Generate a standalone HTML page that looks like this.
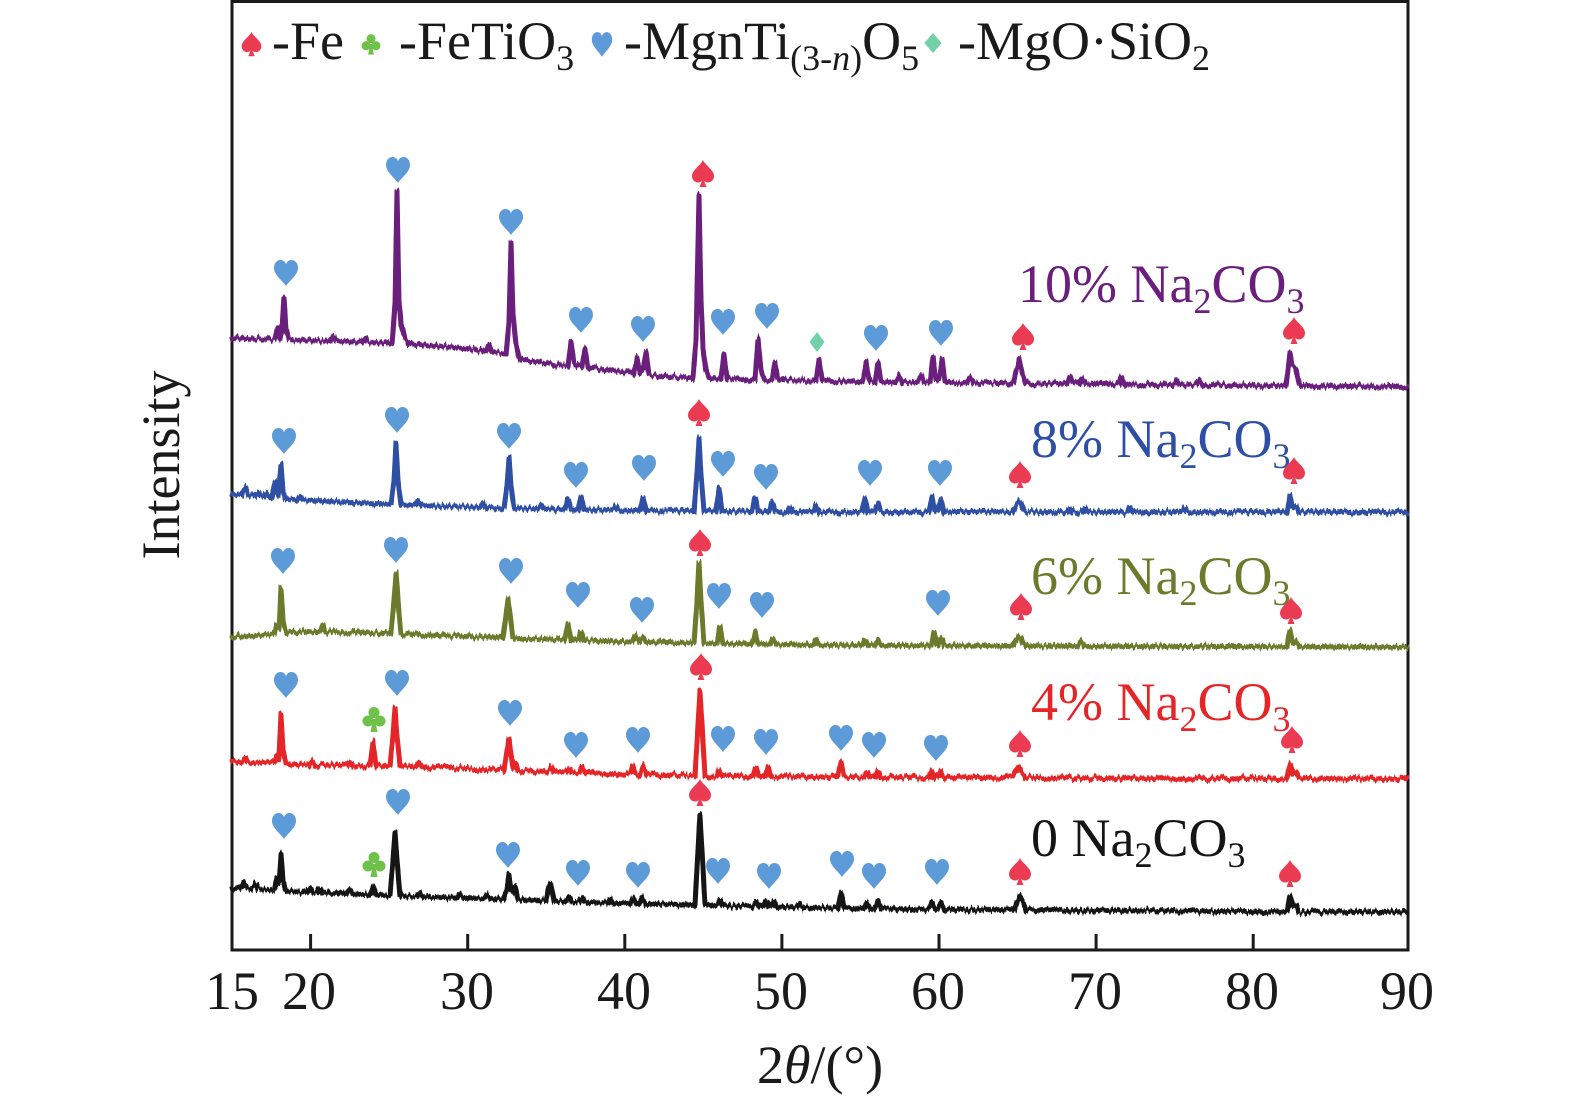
<!DOCTYPE html>
<html>
<head>
<meta charset="utf-8">
<style>
html,body{margin:0;padding:0;background:#fff;}
svg{display:block;}
text{font-family:"Liberation Serif","Times New Roman",serif;}
</style>
</head>
<body>
<svg xmlns="http://www.w3.org/2000/svg" width="1575" height="1102" viewBox="0 0 1575 1102">
<defs>
<path id="hrt" d="M0,13 C-3,8 -12,2 -12,-5 C-12,-10 -9,-13 -5.5,-13 C-2.5,-13 -0.5,-11 0,-8.5 C0.5,-11 2.5,-13 5.5,-13 C9,-13 12,-10 12,-5 C12,2 3,8 0,13Z"/>
<path id="spd" d="M0,-14 C-2,-9 -11,-4 -11,2 C-11,6 -8,8.5 -5,8.5 C-3,8.5 -1.5,7.5 -1,6.5 L-3.5,13 L3.5,13 L1,6.5 C1.5,7.5 3,8.5 5,8.5 C8,8.5 11,6 11,2 C11,-4 2,-9 0,-14Z"/>
<g id="clb"><circle cx="0" cy="-6.5" r="5.5"/><circle cx="-6" cy="2" r="5.5"/><circle cx="6" cy="2" r="5.5"/><path d="M-1,0 L1,0 L3.5,13 L-3.5,13Z"/></g>
<path id="dmd" d="M0,-10 L7.5,0 L0,10 L-7.5,0Z"/>
<filter id="nz" x="-2%" y="-30%" width="104%" height="160%" color-interpolation-filters="sRGB">
<feTurbulence type="fractalNoise" baseFrequency="0.45 0.02" numOctaves="2" seed="5" result="t"/>
<feColorMatrix in="t" type="matrix" values="0 0 0 0 0.5  0 1 0 0 0  0 0 0 0 0  0 0 0 0 1" result="m"/>
<feDisplacementMap in="SourceGraphic" in2="m" scale="9" xChannelSelector="R" yChannelSelector="G"/>
</filter>
</defs>

<rect x="232" y="1.5" width="1176" height="948.5" fill="none" stroke="#1a1a1a" stroke-width="3"/>
<path stroke="#1a1a1a" stroke-width="3" d="M310.6,934V950 M467.7,934V950 M624.8,934V950 M781.9,934V950 M939,934V950 M1096.1,934V950 M1253.2,934V950"/>

<g font-size="54" fill="#1a1a1a" text-anchor="middle">
<text x="232" y="1009">15</text><text x="309" y="1009">20</text><text x="467" y="1009">30</text>
<text x="624" y="1009">40</text><text x="781" y="1009">50</text><text x="938" y="1009">60</text>
<text x="1095" y="1009">70</text><text x="1252" y="1009">80</text><text x="1407" y="1009">90</text>
</g>
<text x="820" y="1083" font-size="54" fill="#1a1a1a" text-anchor="middle">2<tspan font-style="italic">θ</tspan>/(°)</text>
<text transform="translate(179,465) rotate(-90)" font-size="54" fill="#1a1a1a" text-anchor="middle">Intensity</text>

<use href="#spd" transform="translate(251.5,44.5) scale(0.9)" fill="#eb3b53"/>
<text x="272" y="59" font-size="54" fill="#1a1a1a">-Fe</text>
<use href="#clb" transform="translate(371,44) scale(0.82)" fill="#6ec24a"/>
<text x="399" y="59" font-size="54" fill="#1a1a1a">-FeTiO<tspan font-size="36" dy="11">3</tspan></text>
<use href="#hrt" transform="translate(602,44.5) scale(0.85,0.95)" fill="#5d9ad8"/>
<text x="624" y="59" font-size="54" fill="#1a1a1a">-MgnTi<tspan font-size="36" dy="11">(3-<tspan font-style="italic">n</tspan>)</tspan><tspan dy="-11">O</tspan><tspan font-size="36" dy="11">5</tspan></text>
<use href="#dmd" transform="translate(933,43) scale(1.15,1)" fill="#72d1a9"/>
<text x="958" y="59" font-size="54" fill="#1a1a1a">-MgO·SiO<tspan font-size="36" dy="11">2</tspan></text>

<text x="1018" y="302" font-size="54" fill="#6b1f7c">10% Na<tspan font-size="36" dy="11">2</tspan><tspan dy="-11">CO</tspan><tspan font-size="36" dy="11">3</tspan></text>
<text x="1031" y="457" font-size="54" fill="#2e4fa3">8% Na<tspan font-size="36" dy="11">2</tspan><tspan dy="-11">CO</tspan><tspan font-size="36" dy="11">3</tspan></text>
<text x="1031" y="594" font-size="54" fill="#6b7b2b">6% Na<tspan font-size="36" dy="11">2</tspan><tspan dy="-11">CO</tspan><tspan font-size="36" dy="11">3</tspan></text>
<text x="1031" y="720" font-size="54" fill="#e52629">4% Na<tspan font-size="36" dy="11">2</tspan><tspan dy="-11">CO</tspan><tspan font-size="36" dy="11">3</tspan></text>
<text x="1031" y="856" font-size="54" fill="#151515">0 Na<tspan font-size="36" dy="11">2</tspan><tspan dy="-11">CO</tspan><tspan font-size="36" dy="11">3</tspan></text>

<g fill="none" stroke-width="5" stroke-linejoin="round" stroke-linecap="round" filter="url(#nz)">
<path stroke="#6b1f7c" d="M232,338 L275,339.3 L278,328 L280,339.4 L282,330 L284,297.5 L286,330 L289,339.5 L330,341 L333,336 L336,341 L362,342 L365,338 L368,342 L392,343.5 L395,305 L397,191 L399,300 L401,325 L404,335 L408,344 L450,347 L486,351 L489,344 L492,352 L500,353 L506,355 L509,320 L511,243 L513,315 L516,345 L520,360 L568,366 L571,342 L574,362 L578,366 L582,367 L585,348.5 L588,367.5 L600,369 L634,373 L637,357 L640,372 L643,370 L646,352 L649,375 L693,378 L696,340 L699,195 L701,300 L703,350 L706,370 L710,378.5 L721,379 L724,354 L727,379 L755,380 L758,339 L761,370 L764,380 L772,380 L775,363 L778,380 L816,381 L819,360 L822,381 L863,381.5 L866,362.5 L869,381.5 L875,381.6 L878,362.7 L881,381.8 L896,382 L899,375 L902,382 L918,382.1 L921,376 L924,382.2 L930,382.3 L933,357 L936,380 L939,380 L942,359.4 L945,382.4 L967,382.7 L970,376.5 L973,382.7 L1013,383.1 L1016,372 L1019,359 L1022,372 L1025,383.3 L1067,383.7 L1070,377.7 L1073,383.7 L1079,383.8 L1082,377.8 L1085,383.8 L1119,384.2 L1122,376 L1125,384.2 L1173,384.7 L1176,379.9 L1179,384.7 L1197,384.9 L1200,379.9 L1203,384.9 L1286,385.8 L1288,370 L1290,353 L1292,365 L1295,368 L1297,374 L1300,386 L1407,387"/>
<path stroke="#2e4fa3" d="M232,494 L242,494.8 L245,487 L248,495.2 L255,495.8 L258,492 L261,496.1 L263,496.6 L266,493 L269,497 L272,497.8 L275,483 L278,496 L279,490 L281,464 L283,490 L285,499 L297,500 L300,496 L303,500 L391,504.5 L394,480 L396,443 L398,480 L401,505 L415,505.5 L418,500.5 L421,505.6 L480,507.4 L483,502.5 L486,507.6 L504,508.1 L507,485 L509,457 L511,485 L514,508.3 L538,508.8 L541,505 L544,508.9 L565,509.3 L568,498.4 L571,509.4 L578,509.5 L581,496.6 L584,509.6 L613,510.2 L616,506 L619,510.2 L640,510.4 L643,497.4 L646,510.5 L694,511 L697,475 L699,438 L701,475 L704,511 L716,511.2 L719,489 L722,511.2 L752,511.5 L755,497.5 L758,511.5 L769,511.7 L772,501.7 L775,511.7 L787,511.9 L790,507 L793,511.9 L813,512 L816,505 L819,512 L862,512 L865,498 L868,512 L875,512 L878,503 L881,512 L929,512 L932,497 L935,512 L938,511 L941,499 L944,512 L1013,512 L1016,506 L1019,501 L1022,506 L1025,512 L1067,512 L1070,508 L1073,512 L1082,512 L1085,508 L1088,512 L1127,512 L1130,507 L1133,512 L1182,512 L1185,508 L1188,512 L1287,512 L1290,496 L1293,508 L1296,506 L1299,512 L1407,512"/>
<path stroke="#6b7b2b" d="M232,637 L274,633.6 L277,623 L279,628 L281,588 L283,620 L286,632.7 L320,631.5 L323,624.6 L326,631.7 L391,633.7 L394,600 L396,572 L398,600 L401,634 L503,638.1 L506,615 L508,599 L510,615 L513,638.3 L565,639.9 L568,623 L571,640 L578,640.3 L581,631.4 L584,640.5 L632,641.6 L635,635.7 L638,641.8 L640,641.8 L643,636.9 L646,642 L694,642.9 L697,600 L699,563 L701,600 L704,643 L717,643.3 L720,626 L723,643.4 L752,643.9 L755,633 L758,643.9 L770,644.2 L773,639 L776,644.2 L813,645 L816,639 L819,645 L862,645.2 L865,640 L868,645.2 L875,645.3 L878,640 L881,645.3 L931,645.6 L934,632.6 L937,645.6 L938,645.6 L941,637.6 L944,645.6 L1013,646 L1016,641 L1019,636 L1022,641 L1025,646 L1078,646.2 L1081,641 L1084,646.2 L1287,646.7 L1290,629.7 L1293,643 L1296,640.7 L1299,646.7 L1407,647"/>
<path stroke="#e52629" d="M232,762 L242,762.2 L245,758 L248,762.4 L274,763.4 L277,755.5 L279,758 L281,713.7 L283,750 L286,764 L309,765 L312,760 L315,765.1 L347,765.5 L350,761.5 L353,765.5 L370,765.7 L373,741.7 L376,765.8 L390,765.9 L393,735 L395,707 L397,735 L400,766 L416,766.7 L419,762.8 L422,766.9 L504,770.1 L507,750 L509,738.3 L511,755 L513,768 L515,762.5 L518,770.6 L548,771.4 L551,766.5 L554,771.6 L566,771.9 L569,768 L572,772 L579,772.4 L582,766.5 L585,772.5 L630,773.9 L633,766 L636,774 L640,774.2 L643,765.3 L646,774.4 L695,775.9 L698,725 L700,691 L702,725 L705,776 L716,776.2 L719,770.2 L722,776.2 L753,776.5 L756,767.5 L759,776.5 L765,776.6 L768,766.6 L771,776.6 L838,777.1 L841,763 L844,777.1 L864,777.2 L867,772.2 L870,777.2 L875,777.2 L878,770.2 L881,777.2 L929,777.4 L932,769.4 L935,777.4 L938,777.4 L941,771.4 L944,777.4 L1013,777.7 L1016,772 L1019,767.7 L1022,772 L1025,777.7 L1287,778.6 L1290,763.6 L1293,775 L1296,773 L1299,778.6 L1407,779"/>
<path stroke="#151515" d="M232,888 L240,888.3 L243,883.4 L246,888.5 L252,888.7 L255,883.8 L258,888.9 L274,890 L277,877.3 L279,882 L281,853.6 L283,880 L286,891 L307,892.3 L310,887.4 L313,892.5 L317,892.7 L320,887.8 L323,892.9 L347,893.9 L350,890 L353,894 L370,894.8 L373,885.9 L376,894.9 L390,895.6 L393,860 L395,831.8 L397,860 L400,896 L417,896.5 L420,892.6 L423,896.7 L457,897.7 L460,893.8 L463,897.9 L484,898.5 L487,894.6 L490,898.7 L504,899.1 L507,888 L509,875.4 L511,890 L513,892 L515,885.6 L518,899.7 L546,900.8 L548,890 L550,883 L552,890 L554,901.1 L566,901.7 L569,896.8 L572,901.9 L579,902.2 L582,897.3 L585,902.4 L607,903.1 L610,899.2 L613,903.3 L630,903.6 L633,897.7 L636,903.7 L639,903.7 L642,897.8 L645,903.9 L695,904.9 L698,850 L700,815 L702,850 L705,905 L717,905.4 L720,899.5 L723,905.6 L753,906.3 L756,901.4 L759,906.5 L763,906.6 L766,900.7 L769,906.7 L771,906.8 L774,900.9 L777,906.9 L797,907.4 L800,903.5 L803,907.6 L838,908.2 L841,892.2 L844,908.3 L864,908.5 L867,902.5 L870,908.5 L875,908.6 L878,900.6 L881,908.6 L929,909.2 L932,902.2 L935,909.2 L938,909.3 L941,902.3 L944,909.3 L1014,910 L1017,902 L1020,896 L1023,902 L1026,910 L1287,911.7 L1290,895.7 L1293,907 L1296,905 L1299,911.7 L1407,912"/>
</g>

<g fill="#5d9ad8">
<use href="#hrt" x="286" y="273"/><use href="#hrt" x="398" y="170"/><use href="#hrt" x="511" y="222"/><use href="#hrt" x="581" y="320"/><use href="#hrt" x="643" y="329"/><use href="#hrt" x="723" y="322"/><use href="#hrt" x="767" y="316"/><use href="#hrt" x="876" y="338"/><use href="#hrt" x="941" y="333"/>
<use href="#hrt" x="284" y="441"/><use href="#hrt" x="397" y="420"/><use href="#hrt" x="509" y="436"/><use href="#hrt" x="576" y="475"/><use href="#hrt" x="644" y="468"/><use href="#hrt" x="723" y="464"/><use href="#hrt" x="766" y="477"/><use href="#hrt" x="870" y="473"/><use href="#hrt" x="940" y="473"/>
<use href="#hrt" x="283" y="561"/><use href="#hrt" x="396" y="550"/><use href="#hrt" x="511" y="571"/><use href="#hrt" x="578" y="595"/><use href="#hrt" x="642" y="610"/><use href="#hrt" x="719" y="596"/><use href="#hrt" x="762" y="605"/><use href="#hrt" x="938" y="603"/>
<use href="#hrt" x="286" y="685"/><use href="#hrt" x="397" y="683"/><use href="#hrt" x="510" y="713"/><use href="#hrt" x="576" y="745"/><use href="#hrt" x="638" y="740"/><use href="#hrt" x="723" y="739"/><use href="#hrt" x="766" y="742"/><use href="#hrt" x="841" y="738"/><use href="#hrt" x="874" y="745"/><use href="#hrt" x="936" y="748"/>
<use href="#hrt" x="284" y="826"/><use href="#hrt" x="398" y="802"/><use href="#hrt" x="508" y="855"/><use href="#hrt" x="578" y="873"/><use href="#hrt" x="638" y="875"/><use href="#hrt" x="718" y="871"/><use href="#hrt" x="769" y="876"/><use href="#hrt" x="842" y="864"/><use href="#hrt" x="874" y="876"/><use href="#hrt" x="937" y="872"/>
</g>
<g fill="#eb3b53">
<use href="#spd" x="703" y="174"/><use href="#spd" x="1023" y="337"/><use href="#spd" x="1294" y="331"/>
<use href="#spd" x="699" y="413"/><use href="#spd" x="1020" y="475"/><use href="#spd" x="1294" y="471"/>
<use href="#spd" x="700" y="543"/><use href="#spd" x="1021" y="607"/><use href="#spd" x="1291" y="611"/>
<use href="#spd" x="701" y="667"/><use href="#spd" x="1020" y="744"/><use href="#spd" x="1292" y="740"/>
<use href="#spd" x="700" y="793"/><use href="#spd" x="1020" y="872"/><use href="#spd" x="1290" y="874"/>
</g>
<g fill="#6ec24a"><use href="#clb" x="374" y="719"/><use href="#clb" x="374" y="864"/></g>
<use href="#dmd" x="817" y="342" fill="#72d1a9"/>
</svg>
</body>
</html>
